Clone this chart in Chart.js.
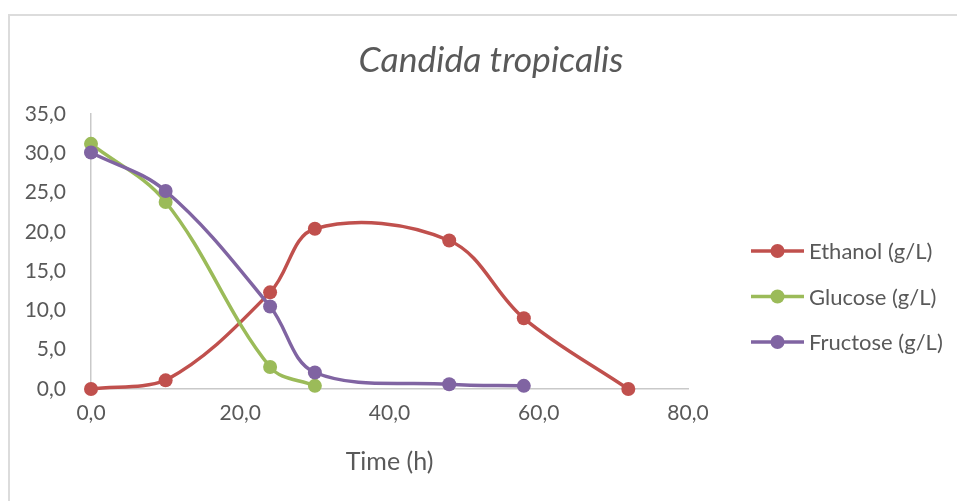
<!DOCTYPE html>
<html>
<head>
<meta charset="utf-8">
<title>Candida tropicalis</title>
<script src="https://cdn.jsdelivr.net/npm/chart.js@4.4.1/dist/chart.umd.min.js"></script>
<style>
  body { margin: 0; background: #fff; }
  #frame {
    position: absolute; left: 8px; top: 14px; width: 949px; height: 487px;
    border-top: 2px solid #dcdcdc; border-left: 2px solid #dcdcdc;
  }
  #chart { position: absolute; left: 0; top: 0; }
</style>
</head>
<body>
<div id="frame"></div>
<canvas id="chart" width="957" height="501"></canvas>
<script>
// sampling times (h) and concentrations (g/L)
var ethanolTime = [0, 10, 24, 30, 48, 58, 72];
var ethanolVal = [0, 1.1, 12.3, 20.4, 18.9, 9.0, 0];
var glucoseTime = [0, 10, 24, 30];
var glucoseVal = [31.2, 23.8, 2.8, 0.4];
var fructoseTime = [0, 10, 24, 30, 48, 58];
var fructoseVal = [30.1, 25.2, 10.5, 2.1, 0.6, 0.4];

var seriesNames = ["Ethanol (g/L)", "Glucose (g/L)", "Fructose (g/L)"];
var seriesColors = ["#C0504D", "#9BBB59", "#8064A2"];

var textColor = "#595959";
var fontName = "Lato, 'Open Sans', sans-serif";

function points(xs, ys) {
  return xs.map(function (x, i) { return { x: x, y: ys[i] }; });
}

function comma(v) {
  return Number(v).toFixed(1).replace(".", ",");
}

function makeSet(i, xs, ys) {
  return {
    label: seriesNames[i],
    data: points(xs, ys),
    borderColor: seriesColors[i],
    backgroundColor: seriesColors[i],
    pointBackgroundColor: seriesColors[i],
    pointBorderColor: seriesColors[i],
    borderWidth: 3.5,
    pointRadius: 7,
    pointBorderWidth: 0,
    tension: 0.36,
    clip: false,
    order: 3 - i // later series on top
  };
}

// legend with a short line + marker before each name
const lineLegend = {
  id: "lineLegend",
  afterDraw(chart) {
    const ctx = chart.ctx;
    ctx.save();
    chart.data.datasets.forEach(function (ds, i) {
      const y = 251 + i * 45.5;
      ctx.strokeStyle = ds.borderColor;
      ctx.lineWidth = 3.5;
      ctx.beginPath();
      ctx.moveTo(751, y);
      ctx.lineTo(804, y);
      ctx.stroke();
      ctx.fillStyle = ds.backgroundColor;
      ctx.beginPath();
      ctx.arc(777.5, y, 7, 0, Math.PI * 2);
      ctx.fill();
      ctx.fillStyle = textColor;
      ctx.font = "22px " + fontName;
      ctx.textBaseline = "middle";
      ctx.textAlign = "left";
      ctx.fillText(ds.label, 809, y + 1);
    });
    ctx.restore();
  }
};

new Chart(document.getElementById("chart"), {
  type: "line",
  data: {
    datasets: [
      makeSet(0, ethanolTime, ethanolVal),
      makeSet(1, glucoseTime, glucoseVal),
      makeSet(2, fructoseTime, fructoseVal)
    ]
  },
  options: {
    responsive: false,
    animation: false,
    layout: { padding: { left: 25, right: 0, top: 0, bottom: 0 } },
    plugins: {
      legend: { display: false },
      tooltip: { enabled: false },
      title: {
        display: true,
        text: "Candida tropicalis",
        color: textColor,
        font: { family: fontName, size: 35.5, style: "italic", weight: "normal" },
        padding: { top: 39, bottom: 32.4 }
      }
    },
    scales: {
      x: {
        type: "linear",
        position: "bottom",
        min: 0,
        max: 80,
        grid: { display: false, drawTicks: false },
        border: { color: "#c9c9c9", width: 1.5 },
        ticks: {
          stepSize: 20,
          padding: 12,
          color: textColor,
          font: { family: fontName, size: 21 },
          callback: comma
        },
        title: {
          display: true,
          text: "Time (h)",
          color: textColor,
          font: { family: fontName, size: 25 },
          padding: { top: 0, bottom: 24 }
        },
        afterFit: function (s) { s.height = 112; }
      },
      y: {
        type: "linear",
        position: "left",
        min: 0,
        max: 35,
        grid: { display: false, drawTicks: false },
        border: { color: "#c9c9c9", width: 1.5 },
        ticks: {
          stepSize: 5,
          padding: 25,
          color: textColor,
          font: { family: fontName, size: 21 },
          callback: comma
        },
        afterFit: function (s) { s.width = 66; }
      },
      // empty axis that keeps room for the legend on the right
      side: {
        type: "linear",
        axis: "y",
        position: "right",
        display: true,
        grid: { display: false },
        border: { display: false },
        ticks: { display: false },
        afterFit: function (s) { s.width = 269; }
      }
    }
  },
  plugins: [lineLegend]
});
</script>
</body>
</html>
